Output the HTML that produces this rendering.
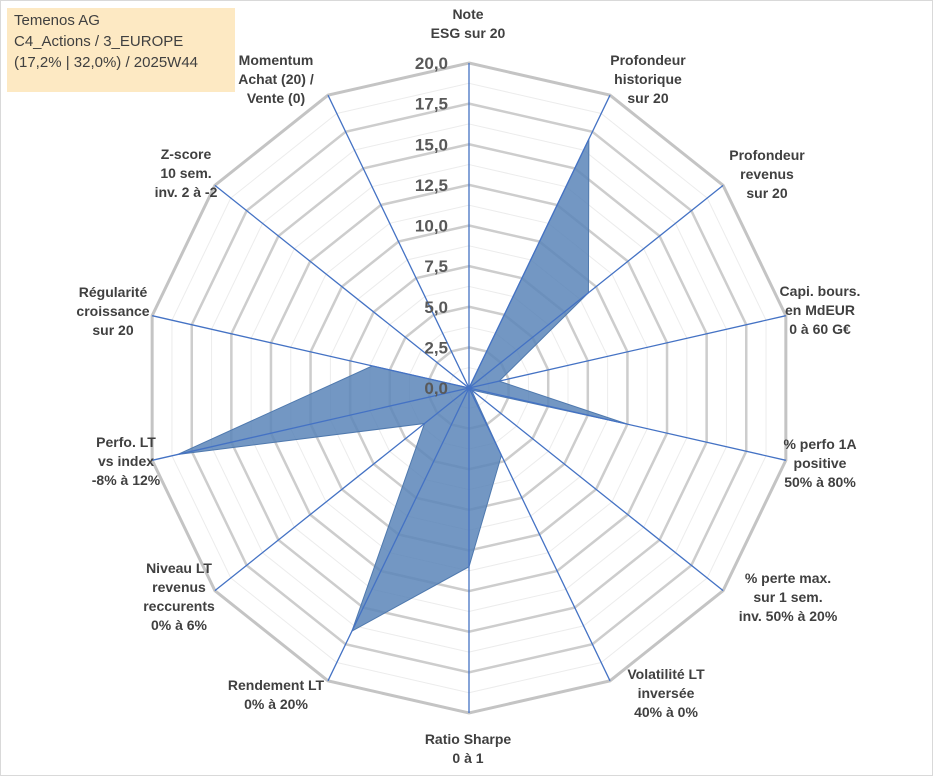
<!DOCTYPE html>
<html><head><meta charset="utf-8"><style>
body{margin:0;background:#fff;}
#wrap{position:relative;width:933px;height:776px;border:1px solid #d9d9d9;box-sizing:border-box;font-family:"Liberation Sans",sans-serif;}
svg{position:absolute;left:0;top:0;}
#title{position:absolute;left:6px;top:7px;width:228px;height:84px;background:#fde9c3;color:#404040;font-size:15px;line-height:21px;padding:2px 7px;box-sizing:border-box;}
</style></head><body>
<div id="wrap">
<svg id="chart" width="933" height="776"></svg>
<div id="title">Temenos AG<br>C4_Actions / 3_EUROPE<br>(17,2% | 32,0%) / 2025W44</div>
</div>
<script>
const categories=[["Note","ESG sur 20"],["Profondeur","historique","sur 20"],["Profondeur","revenus","sur 20"],["Capi. bours.","en MdEUR","0 à 60 G€"],["% perfo 1A","positive","50% à 80%"],["% perte max.","sur 1 sem.","inv. 50% à 20%"],["Volatilité LT","inversée","40% à 0%"],["Ratio Sharpe","0 à 1"],["Rendement LT","0% à 20%"],["Niveau LT","revenus","reccurents","0% à 6%"],["Perfo. LT","vs index","-8% à 12%"],["Régularité","croissance","sur 20"],["Z-score","10 sem.","inv. 2 à -2"],["Momentum","Achat (20) /","Vente (0)"]];
const values=[0,17,9.4,1.9,10,0.2,4.6,11,16.6,3.5,18.4,6.1,0,0];
const tickLabels=["0,0","2,5","5,0","7,5","10,0","12,5","15,0","17,5","20,0"];
const tickValues=[0,2.5,5,7.5,10,12.5,15,17.5,20];
const labelPos=[[467,18],[647,64],[766,159],[819,295],[819,448],[787,582],[665,678],[467,743],[275,689],[178,572],[125,446],[112,296],[185,158],[275,64]];
const NS="http://www.w3.org/2000/svg";
const svg=document.getElementById('chart');
const cx=468,cy=387,R=325,maxV=20,n=categories.length;
function rs(v){return v/maxV*R;}
function pt(i,v){const a=i*2*Math.PI/n;return [cx+rs(v)*Math.sin(a),cy-rs(v)*Math.cos(a)];}
function mk(tag,attrs){const e=document.createElementNS(NS,tag);for(const k in attrs)e.setAttribute(k,attrs[k]);svg.appendChild(e);return e;}
for(let v=1.25;v<20;v+=2.5){const p=mk('polygon',{points:categories.map((c,i)=>pt(i,v).join(',')).join(' '),fill:'none',stroke:'#ececec','stroke-width':1});

}
tickValues.forEach((v,k)=>{if(v===0)return;const p=mk('polygon',{points:categories.map((c,i)=>pt(i,v).join(',')).join(' '),fill:'none',stroke:k===tickValues.length-1?'#c4c4c4':'#cdcdcd','stroke-width':k===tickValues.length-1?3:2.5});

});
const poly=mk('polygon',{points:values.map((v,i)=>pt(i,v).join(',')).join(' '),fill:'#5b85b8','fill-opacity':0.85,stroke:'#4f79ae','stroke-width':1});


categories.forEach((c,i)=>{const e=pt(i,20);const l=mk('line',{x1:cx,y1:cy,x2:e[0],y2:e[1],stroke:'#4472c4','stroke-width':1.3});

});
tickValues.forEach((v,k)=>{const t=mk('text',{x:cx-21,y:cy-rs(v)+6,'text-anchor':'end','font-size':17,'font-weight':'bold',fill:'#595959','font-family':'Liberation Sans, sans-serif'});t.textContent=tickLabels[k];

});
categories.forEach((c,i)=>{const t=mk('text',{'text-anchor':'middle','font-size':14,'font-weight':'bold',fill:'#404040','font-family':'Liberation Sans, sans-serif'});


c.forEach((line,j)=>{const s=document.createElementNS(NS,'tspan');s.setAttribute('x',labelPos[i][0]);s.setAttribute('y',labelPos[i][1]+j*19);s.textContent=line;t.appendChild(s);});});
</script>
</body></html>
